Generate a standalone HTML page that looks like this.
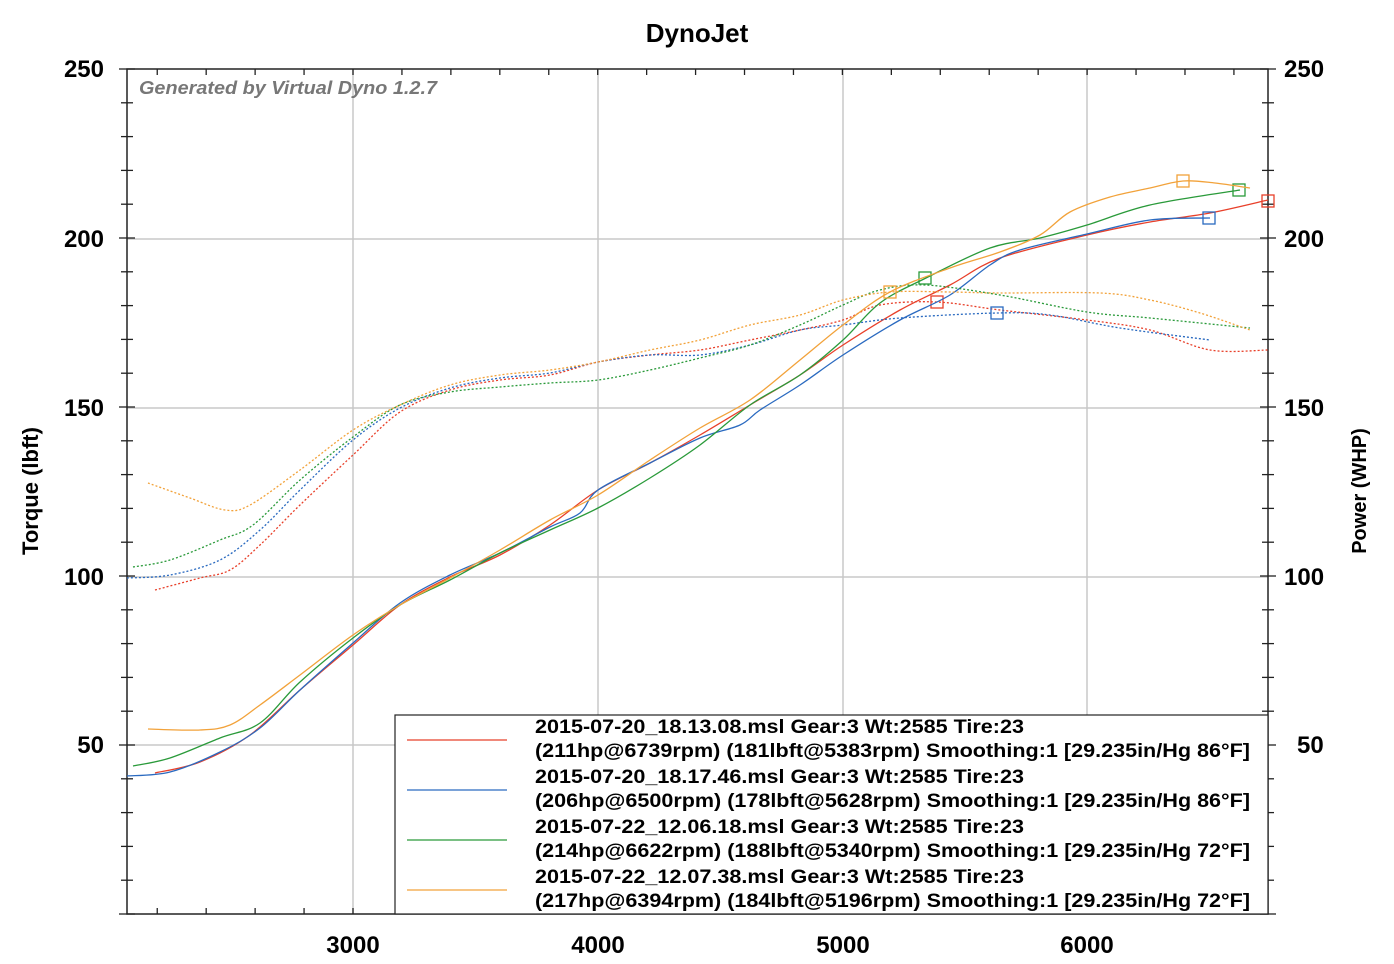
<!DOCTYPE html>
<html><head><meta charset="utf-8"><style>
body{margin:0;background:#fff}
svg{display:block;font-family:"Liberation Sans",Arial,sans-serif}
</style></head><body>
<svg id="s" width="1394" height="964" xmlns="http://www.w3.org/2000/svg">
<rect width="1394" height="964" fill="#fff"/>
<g id="grid" stroke="#c8c8c8" stroke-width="1.5">
<line x1="353" y1="69" x2="353" y2="914"/><line x1="598" y1="69" x2="598" y2="914"/>
<line x1="843" y1="69" x2="843" y2="914"/><line x1="1087" y1="69" x2="1087" y2="914"/>
<line x1="127" y1="239" x2="1268" y2="239"/><line x1="127" y1="408" x2="1268" y2="408"/>
<line x1="127" y1="577" x2="1268" y2="577"/><line x1="127" y1="745" x2="1268" y2="745"/>
</g>
<g id="ticks" stroke="#222" stroke-width="1.3"></g>
<rect x="127" y="69" width="1141" height="845" fill="none" stroke="#222" stroke-width="1.5"/>
<text x="697" y="42" text-anchor="middle" font-size="26" font-weight="bold">DynoJet</text>
<text x="139" y="94" font-size="18" font-weight="bold" font-style="italic" fill="#777" textLength="298" lengthAdjust="spacingAndGlyphs">Generated by Virtual Dyno 1.2.7</text>
<g font-size="24" font-weight="bold" text-anchor="end">
<text x="104" y="77">250</text><text x="104" y="247">200</text><text x="104" y="416">150</text><text x="104" y="585">100</text><text x="104" y="753">50</text></g>
<g font-size="24" font-weight="bold">
<text x="1284" y="77">250</text><text x="1284" y="247">200</text><text x="1284" y="416">150</text><text x="1284" y="585">100</text><text x="1297" y="753">50</text></g>
<g font-size="24" font-weight="bold" text-anchor="middle">
<text x="353" y="953">3000</text><text x="598" y="953">4000</text><text x="843" y="953">5000</text><text x="1087" y="953">6000</text></g>
<text transform="translate(38,491) rotate(-90)" text-anchor="middle" font-size="22" font-weight="bold">Torque (lbft)</text>
<text transform="translate(1366,491) rotate(-90)" text-anchor="middle" font-size="20" font-weight="bold">Power (WHP)</text>
<g id="curves" fill="none" stroke-width="1.3"></g>
<rect x="395" y="715" width="873" height="199" fill="#fff" stroke="#222" stroke-width="1.2"/>
<g stroke-width="1.3">
<line x1="407" y1="740" x2="507" y2="740" stroke="#e8402a"/>
<line x1="407" y1="790" x2="507" y2="790" stroke="#2a6ac0"/>
<line x1="407" y1="840" x2="507" y2="840" stroke="#2a9a3a"/>
<line x1="407" y1="890" x2="507" y2="890" stroke="#f2a23a"/>
</g>
<g font-size="19" font-weight="bold" lengthAdjust="spacingAndGlyphs">
<text x="535" y="733" textLength="489" lengthAdjust="spacingAndGlyphs">2015-07-20_18.13.08.msl Gear:3 Wt:2585 Tire:23</text>
<text x="535" y="757" textLength="715" lengthAdjust="spacingAndGlyphs">(211hp@6739rpm) (181lbft@5383rpm) Smoothing:1 [29.235in/Hg 86°F]</text>
<text x="535" y="783" textLength="489" lengthAdjust="spacingAndGlyphs">2015-07-20_18.17.46.msl Gear:3 Wt:2585 Tire:23</text>
<text x="535" y="807" textLength="715" lengthAdjust="spacingAndGlyphs">(206hp@6500rpm) (178lbft@5628rpm) Smoothing:1 [29.235in/Hg 86°F]</text>
<text x="535" y="833" textLength="489" lengthAdjust="spacingAndGlyphs">2015-07-22_12.06.18.msl Gear:3 Wt:2585 Tire:23</text>
<text x="535" y="857" textLength="715" lengthAdjust="spacingAndGlyphs">(214hp@6622rpm) (188lbft@5340rpm) Smoothing:1 [29.235in/Hg 72°F]</text>
<text x="535" y="883" textLength="489" lengthAdjust="spacingAndGlyphs">2015-07-22_12.07.38.msl Gear:3 Wt:2585 Tire:23</text>
<text x="535" y="907" textLength="715" lengthAdjust="spacingAndGlyphs">(217hp@6394rpm) (184lbft@5196rpm) Smoothing:1 [29.235in/Hg 72°F]</text>
</g>
</svg>
<script>
var NS="http://www.w3.org/2000/svg";
function el(p,t,a){var e=document.createElementNS(NS,t);for(var k in a)e.setAttribute(k,a[k]);p.appendChild(e);return e;}
var tk=document.getElementById("ticks");
for(var v=0;v<=250;v+=10){var y=914-v*3.38;var L=(v%50==0)?8:6;
el(tk,"line",{x1:127-L,y1:y,x2:127+L,y2:y});el(tk,"line",{x1:1268-L,y1:y,x2:1268+L,y2:y});}
for(var r=2200;r<=6700;r+=200){var x=353+(r-3000)*0.2447;
el(tk,"line",{x1:x,y1:69,x2:x,y2:75});el(tk,"line",{x1:x,y1:908,x2:x,y2:914});}
function path(p){var d="M"+p[0][0]+","+p[0][1];for(var i=0;i<p.length-1;i++){var p0=p[i-1]||p[i],p1=p[i],p2=p[i+1],p3=p[i+2]||p2;
d+=" C"+(p1[0]+(p2[0]-p0[0])/6)+","+(p1[1]+(p2[1]-p0[1])/6)+" "+(p2[0]-(p3[0]-p1[0])/6)+","+(p2[1]-(p3[1]-p1[1])/6)+" "+p2[0]+","+p2[1];}return d;}
var C={r:"#e8402a",b:"#2a6ac0",g:"#2a9a3a",o:"#f2a23a"};
var P={
r:[[155,773],[200,762],[250,735],[300,690],[353,645],[400,605],[450,577],[500,555],[550,525],[598,490],[650,463],[700,435],[750,405],[800,375],[843,345],[900,310],[950,285],[1000,258],[1087,235],[1150,222],[1210,213],[1268,200]],
b:[[127,776],[170,772],[220,752],[260,728],[300,690],[353,643],[400,603],[450,575],[500,553],[550,527],[580,513],[598,490],[650,463],[700,438],[740,425],[760,410],[800,385],[843,355],[900,320],[950,295],[990,265],[1020,250],[1087,234],[1150,220],[1210,218]],
g:[[133,766],[170,758],[220,738],[260,723],[300,682],[353,638],[400,605],[450,580],[500,553],[550,530],[598,508],[650,478],[700,445],[750,405],[800,375],[843,340],[880,303],[926,278],[990,248],[1040,238],[1087,225],[1150,205],[1240,190]],
o:[[148,729],[200,730],[230,725],[260,705],[300,675],[353,635],[400,605],[450,578],[500,550],[550,520],[598,495],[650,460],[700,428],[750,400],[800,360],[843,325],[890,292],[950,268],[1000,252],[1040,235],[1070,212],[1110,197],[1150,188],[1183,181],[1215,183],[1250,188]]};
var T={
r:[[155,590],[200,578],[230,570],[260,545],[300,505],[353,455],[400,412],[450,390],[500,380],[550,375],[598,362],[650,355],[700,350],[750,340],[800,330],[843,320],[880,305],[937,302],[1000,310],[1087,320],[1150,330],[1210,350],[1268,350]],
b:[[127,578],[170,575],[220,560],[260,530],[300,490],[353,440],[400,408],[450,388],[500,378],[550,373],[598,362],[650,355],[700,355],[750,345],[800,330],[843,325],[900,318],[997,313],[1050,315],[1120,328],[1210,340]],
g:[[133,567],[170,560],[220,540],[253,525],[300,480],[353,437],[400,405],[450,392],[500,387],[550,383],[598,380],[650,370],[700,358],[750,345],[800,325],[843,305],[880,290],[925,285],[1000,295],[1087,312],[1150,318],[1250,328]],
o:[[148,483],[190,498],[225,510],[250,505],[300,470],[353,430],[400,405],[450,385],[500,375],[550,370],[598,362],[650,350],[700,340],[750,325],[800,315],[843,300],[890,292],[950,292],[1000,293],[1100,293],[1150,300],[1200,313],[1250,330]]};
var M={r:[[1268,201],[937,302]],b:[[1209,218],[997,313]],g:[[1239,190],[925,278]],o:[[1183,181],[890,292]]};
var cg=document.getElementById("curves");
for(var k in C){el(cg,"path",{d:path(T[k]),stroke:C[k],"stroke-dasharray":"2,2"});el(cg,"path",{d:path(P[k]),stroke:C[k]});
M[k].forEach(function(m){el(cg,"rect",{x:m[0]-6,y:m[1]-6,width:12,height:12,stroke:C[k],fill:"none"});});}
</script>
</body></html>
